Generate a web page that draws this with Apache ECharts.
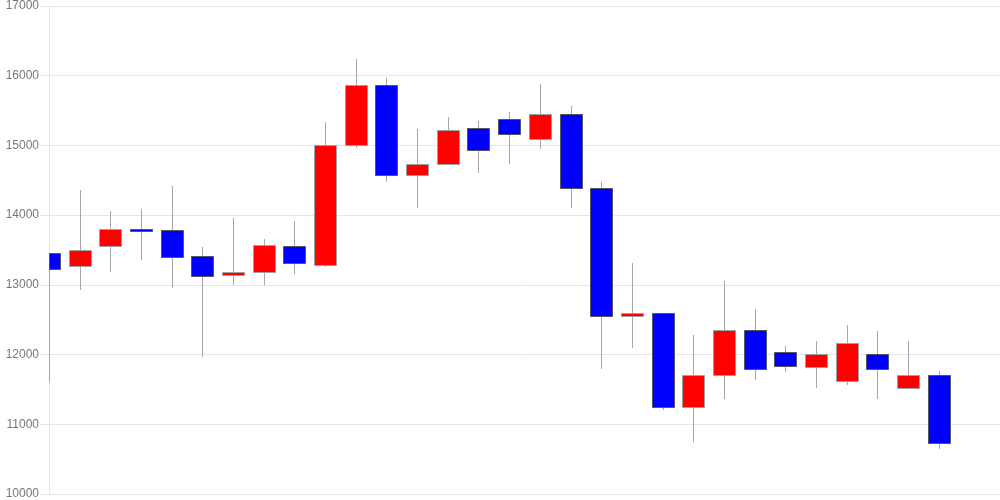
<!DOCTYPE html>
<html><head><meta charset="utf-8">
<script src="https://cdn.jsdelivr.net/npm/echarts@6/dist/echarts.min.js"></script>
<style>html,body{margin:0;padding:0;background:#fff}#c{width:1000px;height:500px}</style>
</head><body><div id="c"></div>
<script>
var categories = ['1','2','3','4','5','6','7','8','9','10','11','12','13','14','15','16','17','18','19','20','21','22','23','24','25','26','27','28','29','30','31','32'];
var opens  = [13450,13270,13560,13800,13780,13420,13140,13180,13560,13280,15000,15870,14570,14730,15250,15380,15090,15450,14390,12550,12600,11250,11700,12350,12030,11820,11620,12010,11520,11700];
var closes = [13230,13500,13800,13770,13400,13120,13190,13570,13310,15000,15870,14570,14730,15220,14930,15160,15450,14390,12550,12600,11250,11700,12350,11800,11830,12010,12170,11800,11700,10730];
var lows   = [11610,12920,13180,13350,12950,11970,13000,13000,13150,13250,14960,14480,14100,14730,14600,14730,14950,14100,11800,12100,11200,10750,11360,11630,11750,11520,11560,11360,11520,10650];
var highs  = [13450,14360,14060,14090,14420,13540,13960,13660,13920,15330,16240,15970,15240,15410,15350,15480,15880,15570,14480,13310,12600,12280,13060,12650,12120,12190,12420,12340,12190,11760];
var yTicks = [10000,11000,12000,13000,14000,15000,16000,17000];

var data = opens.map(function(o,i){ return [i, o, closes[i], lows[i], highs[i]]; });

var BAR_W = 22;
function renderItem(params, api) {
  var idx = api.value(0), o = api.value(1), c = api.value(2), lo = api.value(3), hi = api.value(4);
  var pO = api.coord([idx, o]), pC = api.coord([idx, c]);
  var pL = api.coord([idx, lo]), pH = api.coord([idx, hi]);
  var cs = params.coordSys;
  var x = Math.round(pO[0]);
  var up = c >= o;
  var children = [];
  if (x >= cs.x - 0.5 && x <= cs.x + cs.width) {
    children.push({type:'line', shape:{x1:x+0.5, y1:Math.round(pH[1]), x2:x+0.5, y2:Math.round(pL[1])},
      style:{stroke:'#a6a6a6', lineWidth:1}});
  }
  var top = Math.round(Math.min(pO[1], pC[1])), bot = Math.round(Math.max(pO[1], pC[1]));
  var rect = echarts.graphic.clipRectByRect(
    {x: x - BAR_W/2, y: top, width: BAR_W, height: Math.max(bot - top, 1)},
    {x: cs.x, y: cs.y, width: cs.width, height: cs.height});
  if (rect) {
    children.push({type:'rect', shape:{x:rect.x+0.5, y:rect.y+0.5, width:rect.width, height:rect.height},
      style:{fill: up ? '#ff0000' : '#0000ff', stroke: up ? '#a0a0a0' : '#555566', lineWidth:1}});
  }
  return {type:'group', children:children};
}

var chart = echarts.init(document.getElementById('c'), null, {renderer:'canvas'});
chart.setOption({
  animation:false,
  backgroundColor:'#fff',
  grid:{left:49, right:0, top:6, bottom:6, containLabel:false},
  xAxis:{type:'category', data:categories, boundaryGap:false,
    axisLine:{show:true, lineStyle:{color:'#e6e6e6'}},
    axisTick:{show:false}, axisLabel:{show:false},
    splitLine:{show:false}},
  yAxis:{type:'value', min:yTicks[0], max:yTicks[yTicks.length-1], interval:1000,
    axisLine:{show:true, lineStyle:{color:'#e6e6e6'}},
    axisTick:{show:true, length:9, lineStyle:{color:'#e6e6e6'}},
    axisLabel:{color:'#777', fontFamily:'Liberation Sans, Arial, sans-serif', fontSize:12, margin:10,
      formatter:function(v){ return String(v); }},
    splitLine:{show:true, lineStyle:{color:'#e6e6e6'}}},
  series:[{
    type:'custom', data:data, renderItem:renderItem, clip:true,
    encode:{x:0, y:[1,2,3,4]}
  }]
});
</script></body></html>
